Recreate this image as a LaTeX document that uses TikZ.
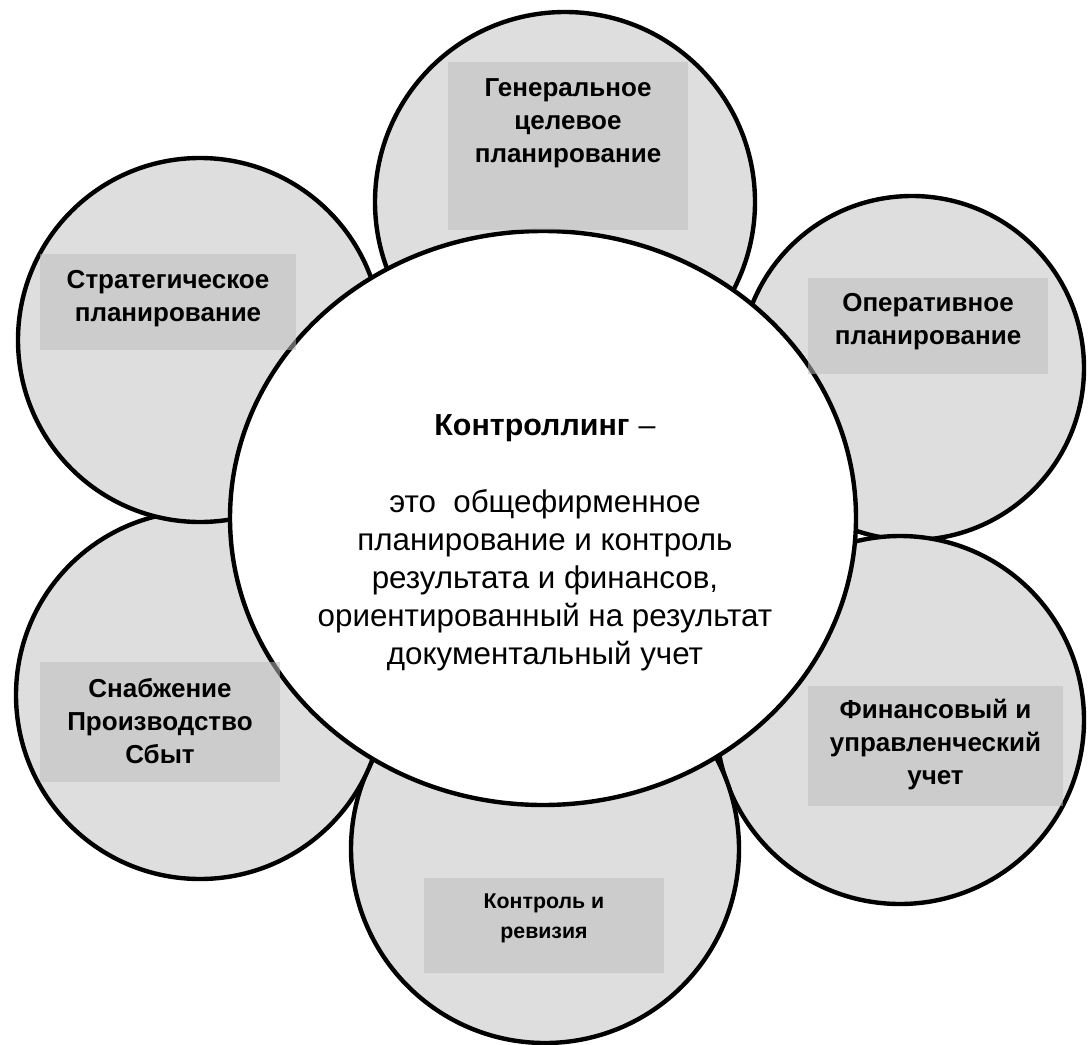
\documentclass[tikz,border=0pt]{standalone}
\usepackage{fontspec}
\setmainfont{Liberation Sans}
\usetikzlibrary{shapes.geometric}
\definecolor{circfill}{RGB}{222,222,222}
\definecolor{boxfill}{RGB}{188,188,188}
\tikzset{
  petal/.style={circle, draw=black, line width=3.3pt, fill=circfill, inner sep=0pt, outer sep=0pt},
  core/.style={ellipse, draw=black, line width=3.3pt, fill=white, inner sep=0pt, outer sep=0pt},
  labelbox/.style={rectangle, fill=boxfill, fill opacity=0.53, draw=none, inner sep=0pt, outer sep=0pt},
  lbl/.style={font=\bfseries\fontsize{19.5}{24.75}\selectfont, align=center, text=black, inner sep=0pt},
  smalllbl/.style={font=\bfseries\fontsize{16}{22.5}\selectfont, align=center, text=black, inner sep=0pt},
  coretext/.style={font=\fontsize{23.5}{28.5}\selectfont, align=center, text=black, inner sep=0pt},
}
\begin{document}
\begin{tikzpicture}[x=0.75pt,y=-0.75pt]
\useasboundingbox (0,0) rectangle (1088,1045);
% outer circles
\node[petal, minimum size=380*0.75pt] (ctop) at (565,202) {};
\node[petal, minimum size=344*0.75pt] (cop) at (912,368) {};
\node[petal, minimum size=368*0.75pt] (cfin) at (900,720) {};
\node[petal, minimum size=388*0.75pt] (cbot) at (545,849) {};
\node[petal, minimum size=368*0.75pt] (csnab) at (200,695) {};
\node[petal, minimum size=364*0.75pt] (cstrat) at (200,340) {};
% central ellipse
\node[core, minimum width=626*0.75pt, minimum height=574*0.75pt] (core) at (543,518) {};
% label boxes
\node[labelbox, minimum width=240*0.75pt, minimum height=168*0.75pt] (btop) at (568,146) {};
\node[labelbox, minimum width=256*0.75pt, minimum height=96*0.75pt] (bstrat) at (168,302) {};
\node[labelbox, minimum width=240*0.75pt, minimum height=96*0.75pt] (bop) at (928,326) {};
\node[labelbox, minimum width=255*0.75pt, minimum height=120*0.75pt] (bfin) at (935.5,746) {};
\node[labelbox, minimum width=240*0.75pt, minimum height=95*0.75pt] (bbot) at (544,925.5) {};
\node[labelbox, minimum width=240*0.75pt, minimum height=120*0.75pt] (bsnab) at (160,722) {};
% labels
\node[lbl] (ttop) at (568,123.5) {Генеральное\\целевое\\планирование};
\node[lbl] (tstrat) at (168,298.5) {Стратегическое\\планирование};
\node[lbl] (top) at (928,321.5) {Оперативное\\планирование};
\node[lbl] (tfin) at (935.5,745) {Финансовый и\\управленческий\\учет};
\node[smalllbl] (tbot) at (544,918) {Контроль и\\ревизия};
\node[lbl] (tsnab) at (160,721) {Снабжение\\Производство\\Сбыт};
\node[font=\fontsize{22.8}{28}\selectfont, inner sep=0pt] (thead) at (545,428) {\textbf{Контроллинг}\hspace{0.3em}–};
\node[coretext] (tbody) at (545,580) {это \ общефирменное\\планирование и контроль\\результата и финансов,\\ориентированный на результат\\документальный учет};
\end{tikzpicture}
\end{document}
